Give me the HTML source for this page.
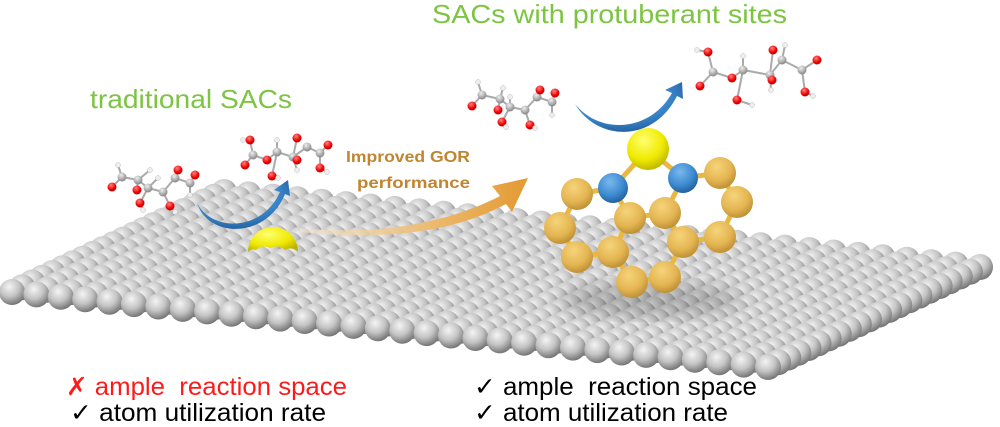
<!DOCTYPE html>
<html><head><meta charset="utf-8">
<style>
html,body{margin:0;padding:0;background:#fff;width:1000px;height:427px;overflow:hidden}
svg{display:block}
text{font-family:"Liberation Sans",Arial,sans-serif}
</style></head>
<body>
<svg id="s" width="1000" height="427" viewBox="0 0 1000 427" xmlns="http://www.w3.org/2000/svg">
<defs>
<radialGradient id="g" cx="0.4" cy="0.3" r="0.75">
<stop offset="0" stop-color="#f4f4f4"/><stop offset="0.5" stop-color="#c4c4c4"/><stop offset="1" stop-color="#6a6a6a"/></radialGradient>
<radialGradient id="au" cx="0.4" cy="0.3" r="0.75">
<stop offset="0" stop-color="#f6d47a"/><stop offset="0.6" stop-color="#e4b552"/><stop offset="1" stop-color="#b88a30"/></radialGradient>
<radialGradient id="bl" cx="0.4" cy="0.3" r="0.75">
<stop offset="0" stop-color="#7ab8ee"/><stop offset="0.6" stop-color="#3d8ad0"/><stop offset="1" stop-color="#1f5a98"/></radialGradient>
<radialGradient id="ye" cx="0.4" cy="0.3" r="0.75">
<stop offset="0" stop-color="#ffff70"/><stop offset="0.6" stop-color="#f0ea00"/><stop offset="1" stop-color="#b8b000"/></radialGradient>
<radialGradient id="rd" cx="0.4" cy="0.3" r="0.8">
<stop offset="0" stop-color="#ff8080"/><stop offset="0.6" stop-color="#ee0000"/><stop offset="1" stop-color="#a00000"/></radialGradient>
<radialGradient id="gy" cx="0.4" cy="0.3" r="0.8">
<stop offset="0" stop-color="#eee"/><stop offset="1" stop-color="#777"/></radialGradient>
<linearGradient id="og" x1="0" y1="0" x2="1" y2="0">
<stop offset="0" stop-color="#f5e6cf" stop-opacity="0.6"/><stop offset="0.6" stop-color="#ecb86a"/><stop offset="1" stop-color="#e39a32"/></linearGradient>
<filter id="blur"><feGaussianBlur stdDeviation="8"/></filter>
</defs>
<g id="plate"></g>
<g id="extra"></g>
</svg>
<script>
var NS="http://www.w3.org/2000/svg";
function el(t,a,p){var e=document.createElementNS(NS,t);for(var k in a)e.setAttribute(k,a[k]);(p||document.getElementById('extra')).appendChild(e);return e;}
var plate=document.getElementById('plate');
var A=[12,292],dAD=[756/31,75/31],dAB=[212/21,-100/21];
for(var j=21;j>=0;j--){for(var i=0;i<=31;i++){
 var x=A[0]+i*dAD[0]+j*dAB[0], y=A[1]+i*dAD[1]+j*dAB[1];
 el('circle',{cx:x.toFixed(1),cy:y.toFixed(1),r:13,fill:'url(#g)'},plate);
}}
el('ellipse',{cx:650,cy:300,rx:90,ry:18,fill:'#000',opacity:0.18,filter:'url(#blur)'});
el('path',{d:'M248,252 A25,25 0 0 1 298,252 Q292,246 285,250 Q278,244 270,248 Q262,244 256,250 Q252,248 248,252 Z',fill:'url(#ye)'});
el('path',{d:'M300,228 C380,236 450,222 500,196 L492,186 L528,178 L512,212 L506,204 C450,234 380,240 300,232 Z',fill:'url(#og)'});
el('path',{d:'M197,203 C212,232 262,232 280,192 L274,190 L288,180 L290,196 L285,194 C266,240 208,238 197,203 Z',fill:'url(#bl)'});
el('path',{d:'M575,104 C600,135 650,132 672,93 L665,90 L682,82 L683,99 L677,96 C652,145 596,140 575,104 Z',fill:'url(#bl)'});
var G={S:[648,149],N1:[613,188],N2:[683,178],a:[577,194],b:[720,173],c:[737,202],d:[560,228],e:[630,218],f:[665,213],g:[720,237],h:[683,242],i:[577,257],k:[613,252],l:[632,282],m:[665,277]};
var B=[['S','N1'],['S','N2'],['N1','a'],['N1','e'],['N2','f'],['N2','b'],['b','c'],['c','g'],['g','h'],['h','f'],['f','e'],['e','k'],['h','m'],['m','l'],['l','k'],['k','i'],['i','d'],['d','a']];
B.forEach(function(b){el('line',{x1:G[b[0]][0],y1:G[b[0]][1],x2:G[b[1]][0],y2:G[b[1]][1],stroke:'#e8b840','stroke-width':5});});
for(var k in G){var r=k=='S'?21:(k[0]=='N'?15:16);el('circle',{cx:G[k][0],cy:G[k][1],r:r,fill:k=='S'?'url(#ye)':(k[0]=='N'?'url(#bl)':'url(#au)')});}
function mol(atoms,bonds){
 bonds.forEach(function(b){el('line',{x1:atoms[b[0]][0],y1:atoms[b[0]][1],x2:atoms[b[1]][0],y2:atoms[b[1]][1],stroke:'#aaa','stroke-width':2});});
 atoms.forEach(function(a){el('circle',{cx:a[0],cy:a[1],r:a[2]=='O'?4.5:(a[2]=='C'?4.5:2.5),fill:a[2]=='O'?'url(#rd)':(a[2]=='C'?'url(#gy)':'#eee'),stroke:a[2]=='H'?'#bbb':'none','stroke-width':0.5});});
}
function chain(pts){var bd=[];for(var q=0;q<pts.length;q++){if(pts[q][3]!==undefined)bd.push([q,pts[q][3]]);}mol(pts,bd);}
chain([[122,177,'C'],[112,187,'O',0],[138,180,'C',0],[137,190,'O',2],[148,188,'C',2],[140,203,'O',4],[163,192,'C',4],[170,206,'O',6],[175,178,'C',6],[178,170,'O',8],[190,183,'C',8],[195,175,'O',10],[118,165,'H',0],[150,170,'H',2],[158,178,'H',4],[190,195,'H',10],[175,212,'H',7],[143,210,'H',5]]);
chain([[253,155,'C'],[250,140,'O',0],[245,165,'O',0],[267,160,'O',0],[277,152,'C',3],[272,176,'O',4],[293,157,'C',4],[297,160,'O',6],[297,138,'O',6],[307,147,'C',6],[320,153,'C',9],[328,145,'O',10],[320,168,'O',10],[277,140,'H',4],[297,170,'H',6],[243,140,'H',1],[327,172,'H',12],[278,178,'H',5]]);
chain([[482,95,'C'],[472,106,'O',0],[500,99,'C',0],[498,110,'O',2],[510,107,'C',2],[502,122,'O',4],[525,110,'C',4],[530,125,'O',6],[537,97,'C',6],[540,90,'O',8],[552,102,'C',8],[555,93,'O',10],[478,82,'H',0],[503,88,'H',2],[510,97,'H',4],[552,115,'H',10],[535,128,'H',7],[506,127,'H',5]]);
chain([[713,72,'C'],[708,52,'O',0],[700,86,'O',0],[732,78,'O',0],[743,70,'C',3],[737,100,'O',4],[770,75,'C',4],[772,80,'O',6],[773,50,'O',6],[782,60,'C',6],[802,70,'C',9],[817,60,'O',10],[805,92,'O',10],[743,56,'H',4],[771,90,'H',6],[697,50,'H',1],[813,96,'H',12],[752,105,'H',5],[785,45,'H',9]]);
</script>
<svg width="1000" height="427" style="position:absolute;left:0;top:0" viewBox="0 0 1000 427">
<text x="90" y="108" font-size="26" fill="#7dc443" textLength="202" lengthAdjust="spacingAndGlyphs">traditional SACs</text>
<text x="432" y="23" font-size="26" fill="#7dc443" textLength="355" lengthAdjust="spacingAndGlyphs">SACs with protuberant sites</text>
<text x="346" y="162" font-size="16" font-weight="bold" fill="#c08530" textLength="124" lengthAdjust="spacingAndGlyphs">Improved GOR</text>
<text x="357" y="188" font-size="16" font-weight="bold" fill="#c08530" textLength="113" lengthAdjust="spacingAndGlyphs">performance</text>
<text x="66" y="395" font-size="25" fill="#ff1a1a" textLength="281" lengthAdjust="spacingAndGlyphs">✗ ample&#160; reaction space</text>
<text x="70" y="421" font-size="25" fill="#000" textLength="256" lengthAdjust="spacingAndGlyphs">✓ atom utilization rate</text>
<text x="474" y="395" font-size="25" fill="#000" textLength="283" lengthAdjust="spacingAndGlyphs">✓ ample&#160; reaction space</text>
<text x="474" y="421" font-size="25" fill="#000" textLength="254" lengthAdjust="spacingAndGlyphs">✓ atom utilization rate</text>
</svg>
</body></html>
